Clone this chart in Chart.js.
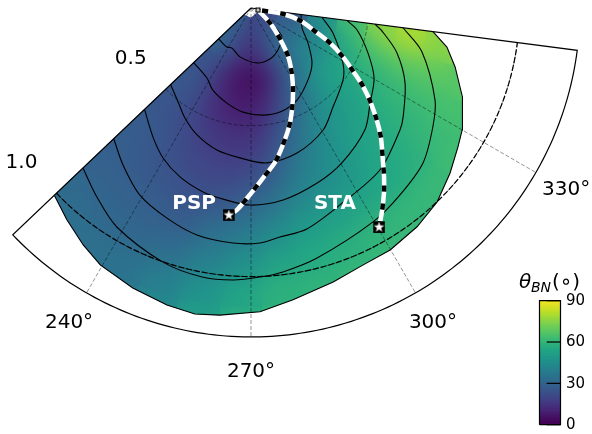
<!DOCTYPE html>
<html>
<head>
<meta charset="utf-8">
<title>theta BN</title>
<script src="https://cdn.jsdelivr.net/npm/chart.js@4"></script>
<style>
	body { margin: 0; background: #fff; }
	canvas { display: block; }
</style>
</head>
<body>
<canvas id="bnBox" width="592" height="434"></canvas>
<script>
// axis ranges and ticks
var rMin = 0.11, rMax = 1.2, rInner = 0.143;
var lonMin = 223.6, lonMax = 352.6;
var lonTicks = [240, 270, 300, 330];
var rTicks = [0.5, 1.0];
var cbTicks = [0, 30, 60, 90];

// theta_BN: one row per radius bin, one value per longitude bin
var lonEdges = [216, 232, 240, 248, 256, 264, 272, 280, 288, 296, 304, 312, 320, 328, 336, 344, 360];
var rEdges = [0.11, 0.2, 0.3, 0.4, 0.5, 0.6, 0.7, 0.8, 0.9, 1.0, 1.1, 1.3];
var thetaBN = [
	[28, 28, 26, 24, 18, 14, 16, 18, 20, 22, 22, 20, 20, 18, 18, 16],
	[30, 28, 22, 20, 12, 9, 10, 18, 24, 30, 32, 34, 32, 30, 28, 22],
	[24, 22, 14, 8, 4, 3, 3, 10, 20, 28, 34, 40, 42, 42, 42, 45],
	[25, 22, 16, 10, 8, 7, 10, 18, 27, 35, 44, 50, 52, 52, 56, 62],
	[24, 22, 19, 15, 14, 13, 17, 27, 35, 42, 47, 50, 54, 58, 64, 74],
	[26, 24, 21, 19, 18, 19, 24, 34, 40, 45, 50, 53, 57, 60, 67, 78],
	[27, 25, 24, 22, 23, 27, 33, 40, 44, 47, 52, 55, 58, 62, 67, 74],
	[28, 28, 27, 26, 32, 36, 42, 48, 50, 52, 54, 56, 60, 63, 66, 68],
	[31, 30, 30, 32, 38, 44, 51, 54, 56, 58, 59, 60, 62, 62, 63, 64],
	[33, 33, 34, 38, 45, 52, 57, 58, 59, 60, 60, 60, 62, 62, 63, 64],
	[34, 34, 36, 42, 50, 56, 60, 61, 61, 61, 61, 61, 62, 62, 63, 64]
];

// outer edge of the model domain
var edgeLon = [223.6, 229, 234.7, 239.6, 247.1, 254.2, 259.6, 264.2, 271.7, 278.2, 286.7, 293.5, 299.9, 307.2, 313.8, 320.3, 326.1, 330, 331.5, 337.1, 343.9, 348.7, 352.6];
var edgeR = [1.01, 1.04, 1.072, 1.097, 1.117, 1.133, 1.141, 1.133, 1.117, 1.087, 1.058, 1.039, 1.035, 1.02, 1.001, 0.967, 0.936, 0.918, 0.909, 0.869, 0.814, 0.772, 0.718];

// shock front contours
var front1Lon = [223.6, 238.4, 244.6, 257.3, 276.2, 290.4, 302.7, 316.9, 321.3];
var front1R = [0.258, 0.262, 0.257, 0.276, 0.293, 0.29, 0.275, 0.25, 0.216];
var front2Lon = [223.6, 237.8, 245.1, 255.8, 265.6, 275.9, 285.6, 296.6, 308.4, 318, 328.4, 338.6, 352.6];
var front2R = [0.372, 0.384, 0.41, 0.435, 0.456, 0.467, 0.468, 0.451, 0.414, 0.382, 0.332, 0.292, 0.277];
var front3Lon = [223.6, 232.2, 239, 247, 256.5, 265.8, 275.9, 287.6, 300.5, 309.6, 322, 329.1, 343, 352.6];
var front3R = [0.478, 0.504, 0.535, 0.567, 0.594, 0.608, 0.626, 0.614, 0.58, 0.536, 0.497, 0.465, 0.394, 0.347];
var front4Lon = [223.6, 232.8, 239.6, 247.2, 255.4, 261.7, 269.7, 279.5, 290.7, 300.4, 313, 321.4, 330.4, 339, 348.3, 352.6];
var front4R = [0.597, 0.647, 0.686, 0.717, 0.74, 0.75, 0.763, 0.755, 0.73, 0.705, 0.663, 0.615, 0.579, 0.525, 0.469, 0.431];
var front5Lon = [223.6, 230.8, 239.3, 248.2, 256.6, 265.6, 272.2, 277.2, 284.2, 294.3, 308.5, 320.7, 324.4, 334, 342.9, 350, 352.6];
var front5R = [0.738, 0.781, 0.831, 0.86, 0.883, 0.891, 0.889, 0.875, 0.865, 0.826, 0.796, 0.748, 0.73, 0.678, 0.616, 0.551, 0.524];
var front6Lon = [223.6, 230.8, 238.5, 250.9, 259.7, 266.2, 271.9, 276.9, 284.8, 299.7, 308.5, 318, 326.8, 333.4, 345.6, 352.6];
var front6R = [0.879, 0.918, 0.961, 1.001, 1.016, 1.013, 1.002, 0.991, 0.967, 0.926, 0.902, 0.877, 0.83, 0.792, 0.695, 0.618];

// magnetic field lines to the two spacecraft
var pspLon = [263.9, 266, 270.3, 274, 278.9, 282.6, 287.7, 291.9, 296.6, 301.8, 307.6, 313.1, 321.7, 344];
var pspR = [0.8, 0.781, 0.72, 0.675, 0.627, 0.582, 0.524, 0.474, 0.421, 0.367, 0.311, 0.25, 0.19, 0.134];
var staLon = [300.3, 302.7, 305.7, 308.2, 310.6, 315, 318.1, 321.6, 325.1, 328.3, 332, 336.1, 339.7, 345.4, 349.4, 344];
var staR = [0.951, 0.913, 0.865, 0.823, 0.782, 0.719, 0.671, 0.617, 0.562, 0.507, 0.455, 0.396, 0.34, 0.281, 0.218, 0.134];

var viridis = ['#440154', '#482475', '#414487', '#355f8d', '#2a788e', '#21918c', '#22a884', '#44bf70', '#7ad151', '#bddf26', '#fde725'];

// scale: 301.8 px per AU, sun sits at pixel 251,8
var pxAU = 301.8;

function toXY(lon, r) {
	var a = (lon - 270) * Math.PI / 180;
	var d = r - rMin;
	return { x: d * Math.sin(a), y: -d * Math.cos(a) };
}
function polarLine(lons, rs) {
	return lons.map(function(v, i) { return toXY(v, rs[i]); });
}
function arcPoints(r) {
	var pts = [];
	for (var l = lonMin; l < lonMax; l += 1) pts.push(toXY(l, r));
	pts.push(toXY(lonMax, r));
	return pts;
}
function colorOf(v) {
	var t = Math.max(0, Math.min(1, v / 90)) * 10;
	var i = Math.min(9, Math.floor(t));
	var a = parseInt(viridis[i].slice(1), 16), b = parseInt(viridis[i + 1].slice(1), 16);
	var f = t - i;
	var c = [16, 8, 0].map(function(s) {
		var p = (a >> s) & 255, q = (b >> s) & 255;
		return Math.round(p + (q - p) * f);
	});
	return 'rgb(' + c.join(',') + ')';
}
function starImage(size) {
	var c = document.createElement('canvas');
	c.width = c.height = size;
	var g = c.getContext('2d');
	g.fillStyle = 'white';
	g.beginPath();
	for (var i = 0; i < 10; i++) {
		var rad = (i % 2 ? 0.2 : 0.5) * size;
		var a = -Math.PI / 2 + i * Math.PI / 5;
		g.lineTo(size / 2 + rad * Math.cos(a), size / 2 + rad * Math.sin(a));
	}
	g.closePath();
	g.fill();
	return c;
}
function lineSet(points, color, width, dash, tension) {
	return { data: points, showLine: true, borderColor: color, borderWidth: width, borderDash: dash || [], tension: tension || 0, pointRadius: 0, fill: false };
}

var datasets = [];

// colorbar, on its own y scale
var cbLeft = (539.5 - 251) / pxAU, cbRight = (560.5 - 251) / pxAU, cbTickLeft = (546.7 - 251) / pxAU;
cbTicks.forEach(function(t) {
	var s = lineSet([{ x: cbTickLeft, y: t }, { x: cbRight, y: t }], 'black', 1.2);
	s.yAxisID = 'cb';
	datasets.push(s);
});
var cbFrame = lineSet([{ x: cbLeft, y: 0 }, { x: cbRight, y: 0 }, { x: cbRight, y: 90 }, { x: cbLeft, y: 90 }, { x: cbLeft, y: 0 }], 'black', 1.2);
cbFrame.yAxisID = 'cb';
datasets.push(cbFrame);
for (var lev = 0; lev < 90; lev++) {
	var cbCol = colorOf(lev + 0.5);
	var cbEnd = Math.min(90, lev + 2);
	datasets.push({
		data: [{ x: cbLeft, y: lev }, { x: cbRight, y: lev }, { x: cbRight, y: cbEnd }, { x: cbLeft, y: cbEnd }, { x: cbLeft, y: lev }],
		yAxisID: 'cb', showLine: true, fill: 'shape', backgroundColor: cbCol, borderColor: cbCol, borderWidth: 0.1, pointRadius: 0
	});
}

// spacecraft markers
var star = starImage(11), smallStar = starImage(5);
[[263.9, 0.8], [300.3, 0.951]].forEach(function(p) {
	datasets.push({ data: [toXY(p[0], p[1])], pointStyle: star, pointRadius: 5 });
});
datasets.push({ data: [toXY(344, 0.134)], pointStyle: smallStar, pointRadius: 2 });
[[263.9, 0.8], [300.3, 0.951]].forEach(function(p) {
	datasets.push({ data: [toXY(p[0], p[1])], pointStyle: 'rect', pointRadius: 8.2, backgroundColor: 'black', borderWidth: 0 });
});
datasets.push({ data: [toXY(344, 0.134)], pointStyle: 'rect', pointRadius: 3.6, backgroundColor: 'black', borderWidth: 0 });

// field lines: black dashes on a white line
datasets.push(lineSet(polarLine(pspLon, pspR), 'black', 4.5, [6, 12], 0.3));
datasets.push(lineSet(polarLine(staLon, staR), 'black', 4.5, [6, 12], 0.3));
datasets.push(lineSet(polarLine(pspLon, pspR), 'white', 4.5, [], 0.3));
datasets.push(lineSet(polarLine(staLon, staR), 'white', 4.5, [], 0.3));

// 1 AU circle and the fronts
datasets.push(lineSet(arcPoints(1.0), 'black', 1.2, [6, 2]));
[[front1Lon, front1R], [front2Lon, front2R], [front3Lon, front3R], [front4Lon, front4R], [front5Lon, front5R], [front6Lon, front6R]].forEach(function(f) {
	datasets.push(lineSet(polarLine(f[0], f[1]), 'black', 1.1, [], 0.3));
});
datasets.push(lineSet(polarLine(edgeLon, edgeR), 'black', 1.1));

// wedge frame
var frame = arcPoints(rMax);
frame.unshift(toXY(lonMin, rMin));
frame.push(toXY(lonMax, rMin));
datasets.push(lineSet(frame, 'black', 1.2));

// grid
lonTicks.forEach(function(l) {
	datasets.push(lineSet([toXY(l, rMin), toXY(l, rMax)], 'rgba(0,0,0,0.42)', 1, [4, 2]));
});
rTicks.forEach(function(r) {
	datasets.push(lineSet(arcPoints(r), 'rgba(0,0,0,0.42)', 1, [4, 2]));
});

// heat cells go last so they are drawn first
var heatStart = datasets.length;
thetaBN.forEach(function(row, i) {
	row.forEach(function(v, j) {
		var col = colorOf(v);
		datasets.push({
			data: [toXY(lonEdges[j], rEdges[i]), toXY(lonEdges[j + 1], rEdges[i]), toXY(lonEdges[j + 1], rEdges[i + 1]), toXY(lonEdges[j], rEdges[i + 1]), toXY(lonEdges[j], rEdges[i])],
			showLine: true, fill: 'shape', backgroundColor: col, borderColor: col, borderWidth: 1, pointRadius: 0
		});
	});
});

// keeps the heat cells inside the domain and softens them
var heatPlugin = {
	id: 'heatClip',
	beforeDatasetsDraw: function(chart) {
		var ctx = chart.ctx, sx = chart.scales.x, sy = chart.scales.y;
		var pts = polarLine(edgeLon, edgeR);
		pts.push(toXY(lonMax, rInner));
		pts.push(toXY(270, rInner));
		pts.push(toXY(lonMin, rInner));
		ctx.save();
		ctx.beginPath();
		pts.forEach(function(p) { ctx.lineTo(sx.getPixelForValue(p.x), sy.getPixelForValue(p.y)); });
		ctx.closePath();
		ctx.clip();
	},
	afterDatasetDraw: function(chart, args) {
		if (args.index !== heatStart) return;
		var ctx = chart.ctx;
		ctx.filter = 'blur(11px)';
		ctx.drawImage(chart.canvas, 0, 0);
		ctx.filter = 'none';
		ctx.restore();
	}
};

// all the text
var textPlugin = {
	id: 'labels',
	afterDraw: function(chart) {
		var ctx = chart.ctx, sx = chart.scales.x, sy = chart.scales.y, cb = chart.scales.cb;
		function px(p) { return { x: sx.getPixelForValue(p.x), y: sy.getPixelForValue(p.y) }; }
		ctx.save();
		ctx.fillStyle = 'black';
		ctx.textAlign = 'center';
		ctx.textBaseline = 'middle';
		ctx.font = '20px "DejaVu Sans"';
		lonTicks.forEach(function(l) {
			var p = px(toXY(l, 1.316));
			ctx.fillText(l + '°', p.x, p.y);
		});
		rTicks.forEach(function(r) {
			var p = px(toXY(lonMin, r));
			ctx.fillText(r.toFixed(1), p.x - 35, p.y - 30);
		});
		ctx.font = 'bold 20px "DejaVu Sans"';
		ctx.fillStyle = 'white';
		var a = px(toXY(253.8, 0.786)), b = px(toXY(293.2, 0.816));
		ctx.fillText('PSP', a.x, a.y);
		ctx.fillText('STA', b.x, b.y);
		ctx.fillStyle = 'black';
		ctx.textAlign = 'left';
		ctx.font = '15px "DejaVu Sans"';
		cbTicks.forEach(function(t) {
			ctx.fillText(String(t), 566, cb.getPixelForValue(t) + 0.5);
		});
		ctx.textBaseline = 'alphabetic';
		ctx.font = 'italic 20px "DejaVu Sans"';
		ctx.fillText('θ', 519, 288);
		ctx.font = 'italic 14px "DejaVu Sans"';
		ctx.fillText('BN', 531, 292);
		ctx.font = '20px "DejaVu Sans"';
		ctx.fillText('(∘)', 552, 288);
		ctx.restore();
	}
};

var bnChart = new Chart(document.getElementById('bnBox'), {
	type: 'scatter',
	data: { datasets: datasets },
	options: {
		responsive: false,
		animation: false,
		events: [],
		layout: { padding: 0, autoPadding: false },
		plugins: { legend: { display: false }, tooltip: { enabled: false } },
		scales: {
			x: { type: 'linear', display: false, min: -251 / pxAU, max: 341 / pxAU },
			y: { type: 'linear', display: false, min: -426 / pxAU, max: 8 / pxAU },
			// 0 at pixel 424.7 and 90 at pixel 300.7
			cb: { type: 'linear', display: false, position: 'right', min: -6.75, max: 308.2 }
		}
	},
	plugins: [heatPlugin, textPlugin]
});
</script>
</body>
</html>
